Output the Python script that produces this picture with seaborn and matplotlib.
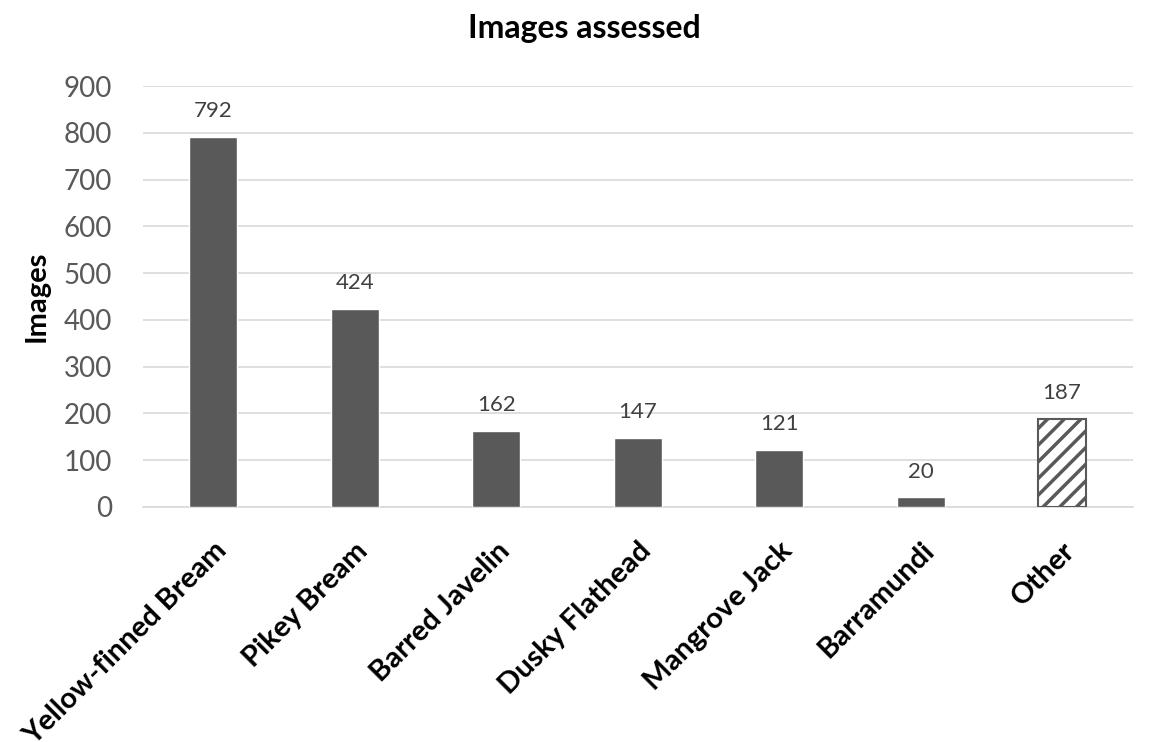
import matplotlib
matplotlib.use("Agg")
import matplotlib.pyplot as plt
import seaborn as sns
import pandas as pd

species = ["Yellow-finned Bream", "Pikey Bream", "Barred Javelin",
           "Dusky Flathead", "Mangrove Jack", "Barramundi", "Other"]
images = [792, 424, 162, 147, 121, 20, 187]
yticks = [0, 100, 200, 300, 400, 500, 600, 700, 800, 900]

sns.set_theme(style="white")
plt.rcParams["font.family"] = ["Lato", "DejaVu Sans"]
plt.rcParams["hatch.linewidth"] = 2.5

df = pd.DataFrame({"species": species, "images": images})

fig = plt.figure(figsize=(11.5, 7.42), dpi=100)
ax = fig.add_axes([0.124, 0.317, 0.861, 0.567])

sns.barplot(data=df, x="species", y="images", color="#595959",
            width=0.34, saturation=1, ax=ax, zorder=3)

# last bar ("Other") drawn hatched
other = ax.patches[-1]
other.set_facecolor("white")
other.set_edgecolor("#595959")
other.set_hatch("//")
other.set_linewidth(1.5)

for p, v in zip(ax.patches, images):
    ax.text(p.get_x() + p.get_width() / 2, v + 34, str(v),
            ha="center", va="bottom", fontsize=16, color="#404040")

ax.set_ylim(0, 900)
ax.set_yticks(yticks)
ax.set_yticklabels([str(t) for t in yticks], fontsize=20, color="#595959")
ax.yaxis.grid(True, color="#d9d9d9", linewidth=1.2, zorder=0)
ax.set_axisbelow(True)
for s in ["top", "right", "left"]:
    ax.spines[s].set_visible(False)
ax.spines["bottom"].set_color("#d9d9d9")
ax.spines["bottom"].set_linewidth(1.2)
ax.tick_params(axis="y", length=0, pad=22)
ax.tick_params(axis="x", length=0, pad=22)

ax.set_xticks(range(len(species)))
ax.set_xticklabels(species, rotation=45, ha="right", rotation_mode="anchor",
                   fontsize=21, fontweight="bold", color="black")
ax.set_xlabel("")
ax.set_ylabel("Images", fontsize=21, fontweight="bold", color="black", labelpad=10)
fig.text(0.508, 0.962, "Images assessed", ha="center", va="center",
         fontsize=23, fontweight="bold", color="black")

fig.savefig("out.png", dpi=100)
